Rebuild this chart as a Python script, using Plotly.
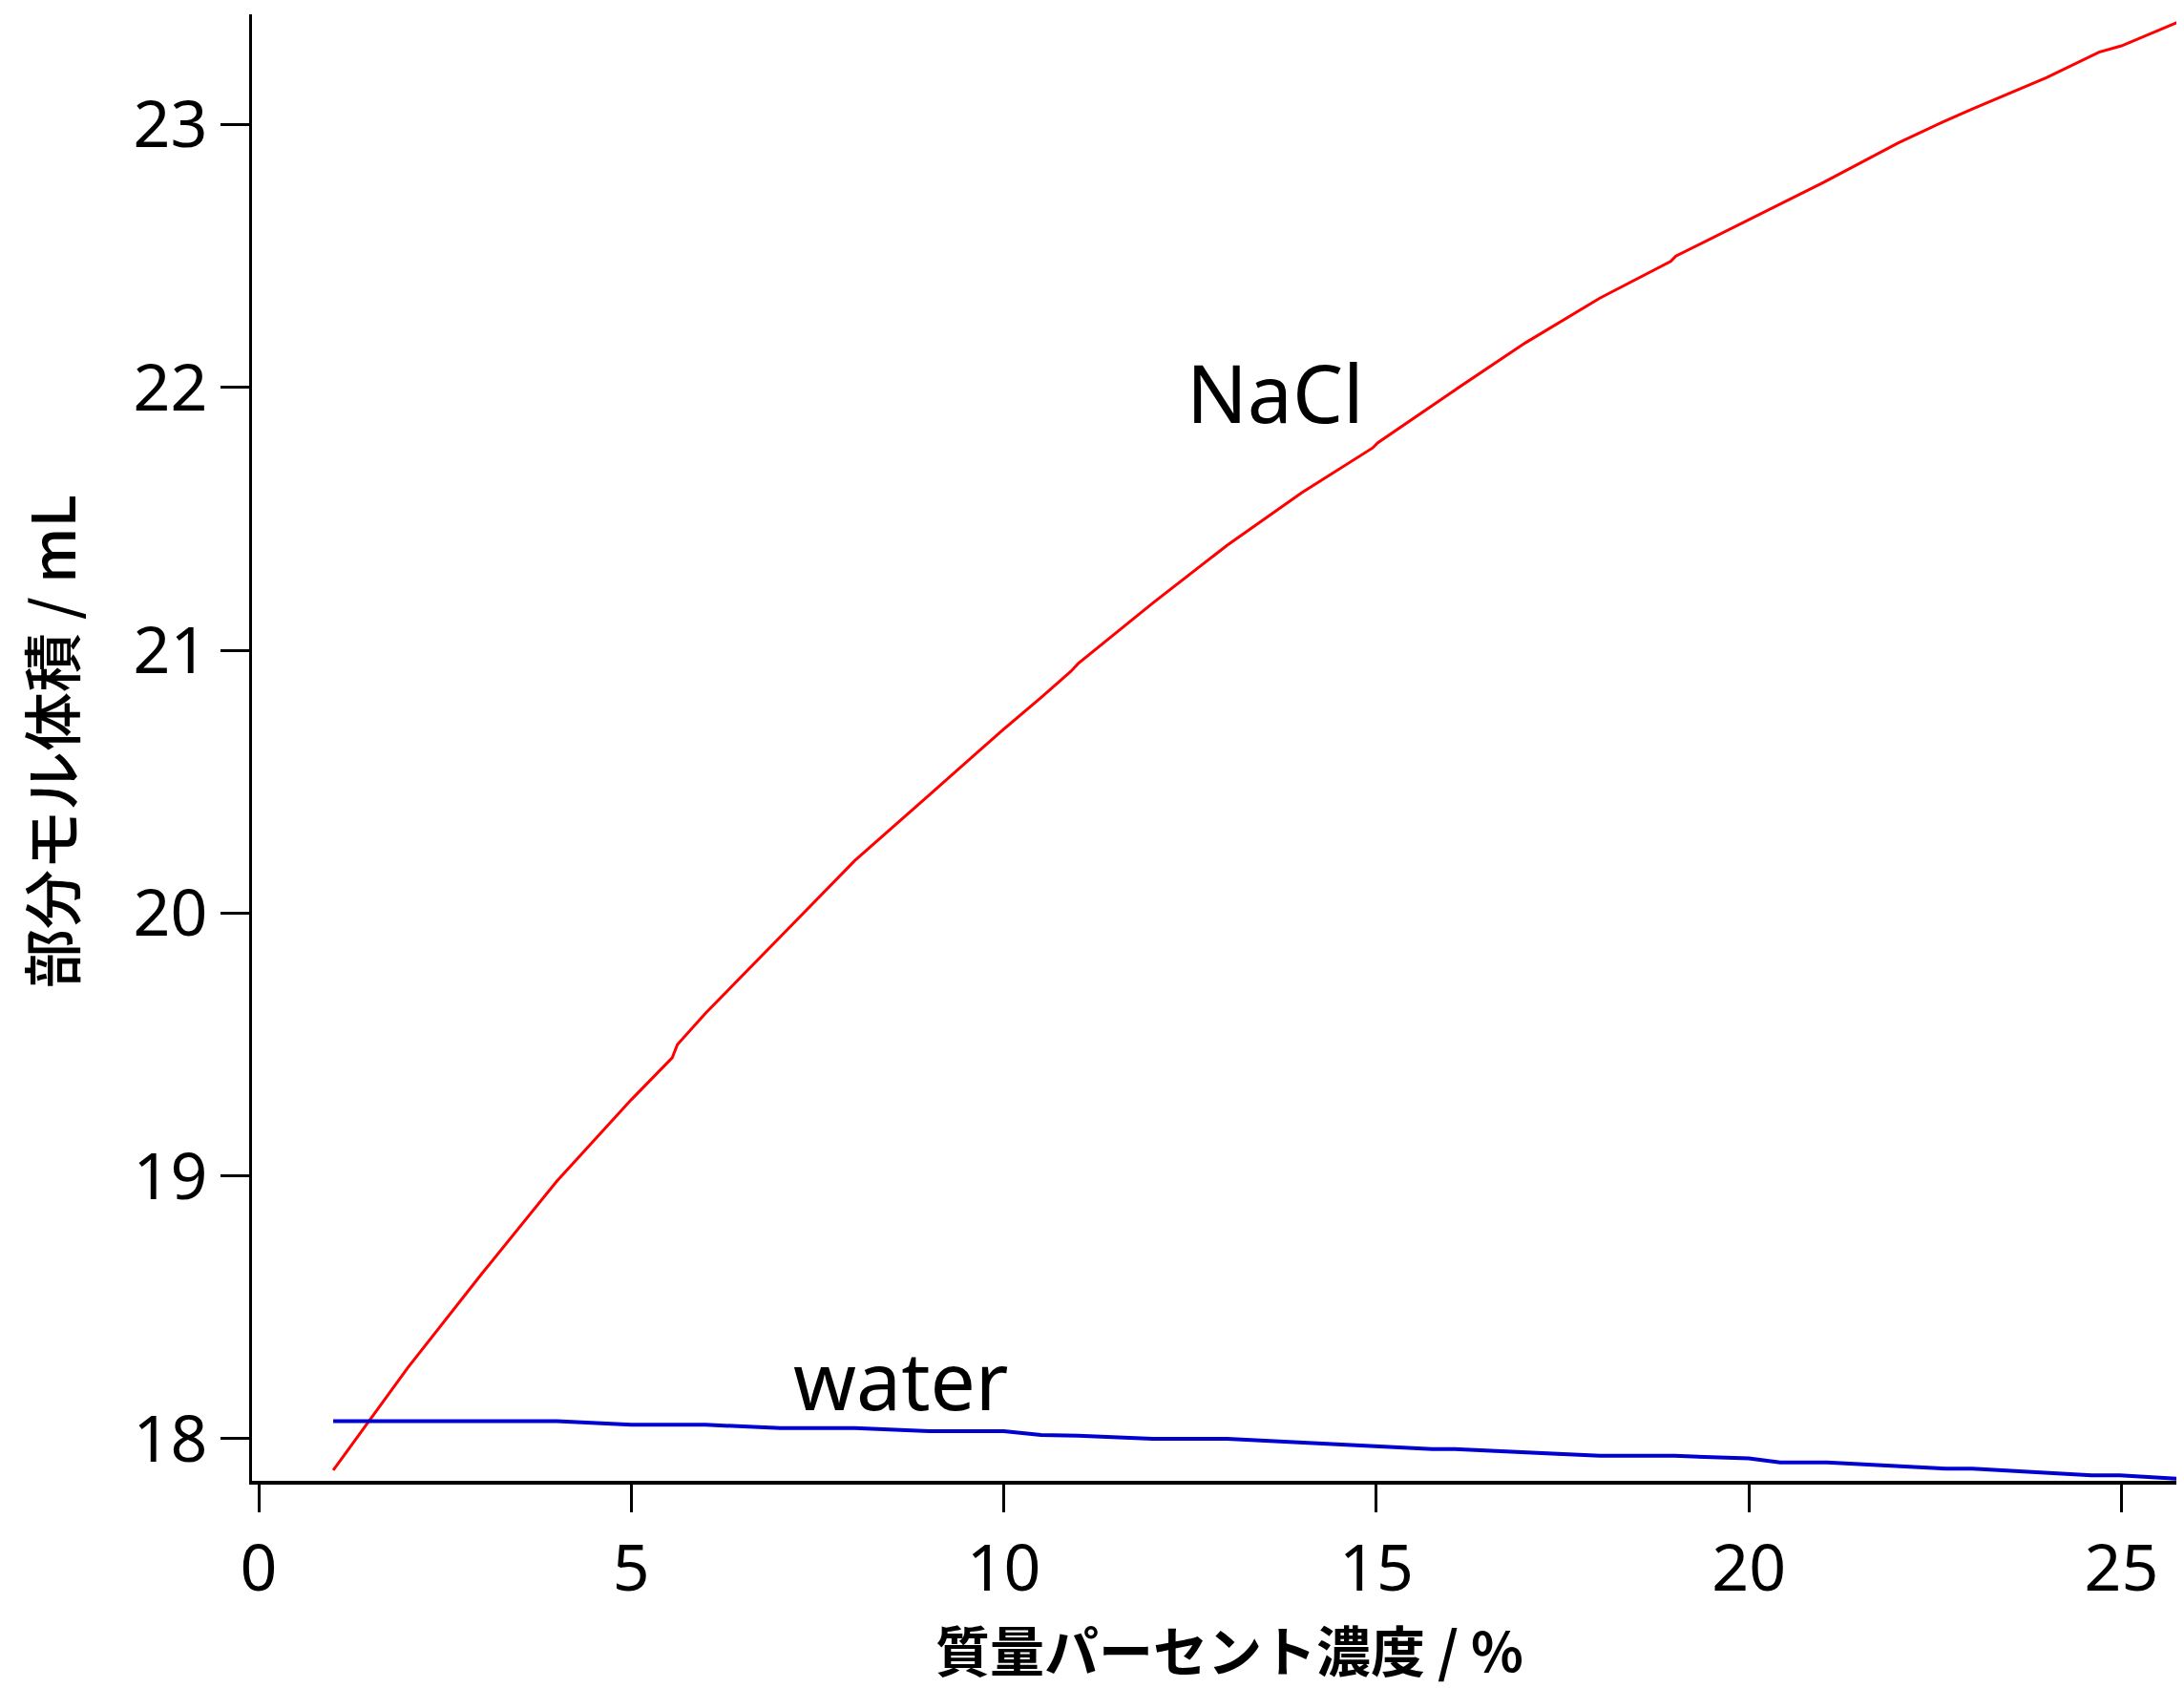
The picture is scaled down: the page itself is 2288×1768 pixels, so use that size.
import plotly.graph_objects as go

# NaCl partial molar volume (mL) vs mass percent concentration (%)
nacl_x = [1, 2, 3, 4, 5, 5.55, 5.62, 6, 7, 8, 9, 10, 10.5, 10.9, 11, 12, 13, 14,
          14.95, 15.02, 16, 17, 18, 18.95, 19.02, 20, 21, 22, 22.6, 23, 24, 24.7, 25, 25.84]
nacl_y = [17.88, 18.27, 18.63, 18.98, 19.29, 19.45, 19.50, 19.62, 19.91, 20.20, 20.45, 20.70,
          20.82, 20.92, 20.95, 21.18, 21.40, 21.60, 21.77, 21.79, 21.98, 22.17, 22.34, 22.48,
          22.50, 22.64, 22.78, 22.93, 23.01, 23.06, 23.18, 23.276, 23.30, 23.40]

# water partial molar volume (mL)
water_x = [1, 4, 5, 6, 7, 8, 9, 10, 10.5, 11, 12, 13, 15.75, 16.05, 18.0, 19.0, 20.0,
           20.42, 21.05, 22.65, 23.0, 24.6, 24.98, 25.84]
water_y = [18.067, 18.067, 18.053, 18.053, 18.041, 18.041, 18.029, 18.029, 18.014, 18.012,
           18.0, 18.0, 17.961, 17.961, 17.935, 17.935, 17.925, 17.910, 17.910, 17.886,
           17.886, 17.861, 17.861, 17.846]

x_ticks = [0, 5, 10, 15, 20, 25]
y_ticks = [18, 19, 20, 21, 22, 23]

x_title = "質量パーセント濃度 / %"
y_title = "部分モル体積 / mL"

# the page body adds an 8px offset; size the figure so it fills the window exactly
OFF = 8
W, H = 2288 - OFF, 1768 - OFF
ML, MR, MT = 264 - OFF, 0, 15 - OFF
MB = H - (1551 - OFF)
XR = [-0.09, 25.84]
YR = [17.84, 23.42]

fig = go.Figure()
fig.add_trace(go.Scatter(x=nacl_x, y=nacl_y, mode="lines", name="NaCl",
                         line=dict(color="#FF0000", width=3), showlegend=False))
fig.add_trace(go.Scatter(x=water_x, y=water_y, mode="lines", name="water",
                         line=dict(color="#0000D0", width=4), showlegend=False))

tick_font = dict(family="Noto Sans, Liberation Sans, sans-serif", size=68, color="black")

fig.update_layout(
    width=W, height=H,
    margin=dict(l=ML, r=MR, t=MT, b=MB, pad=0),
    paper_bgcolor="white", plot_bgcolor="white",
    xaxis=dict(range=XR, tickvals=x_ticks, ticktext=[str(v) for v in x_ticks],
               showline=True, linecolor="black", linewidth=4, ticks="outside",
               ticklen=29, tickwidth=2.5, tickcolor="black", showgrid=False,
               zeroline=False, tickfont=tick_font, mirror=False),
    yaxis=dict(range=YR, tickvals=y_ticks, ticktext=[str(v) for v in y_ticks],
               showline=True, linecolor="black", linewidth=3, ticks="outside",
               ticklen=30, tickwidth=3, tickcolor="black", showgrid=False,
               zeroline=False, tickfont=tick_font, mirror=False),
)


# helpers converting reference-window pixels to data / paper coordinates
def px_to_x(px):
    return XR[0] + (px - OFF - ML) / (W - ML - MR) * (XR[1] - XR[0])


def py_to_y(py):
    return YR[0] + (H - MB - (py - OFF)) / (H - MT - MB) * (YR[1] - YR[0])


def px_paper(px):
    return (px - OFF - ML) / (W - ML - MR)


def py_paper(py):
    return (H - MB - (py - OFF)) / (H - MT - MB)


label_font = dict(family="Noto Sans, Liberation Sans, sans-serif", size=84, color="black")
fig.add_annotation(text="NaCl", x=px_to_x(1336), y=py_to_y(410), xref="x", yref="y",
                   showarrow=False, font=label_font, xanchor="center", yanchor="middle")
fig.add_annotation(text="water", x=px_to_x(944), y=py_to_y(1444), xref="x", yref="y",
                   showarrow=False, font=label_font, xanchor="center", yanchor="middle")

# axis titles
fig.add_annotation(text=x_title, x=px_paper(1288), y=py_paper(1726),
                   xref="paper", yref="paper", showarrow=False, xanchor="center", yanchor="middle",
                   borderpad=0,
                   font=dict(family="Noto Sans CJK JP", size=57, color="black", weight="bold"))
fig.add_annotation(text=y_title, x=px_paper(52), y=py_paper(777),
                   xref="paper", yref="paper", showarrow=False, xanchor="center", yanchor="middle",
                   textangle=-90,
                   font=dict(family="Noto Sans CJK JP", size=62, color="black", weight=500))

fig.write_html("out.html")
